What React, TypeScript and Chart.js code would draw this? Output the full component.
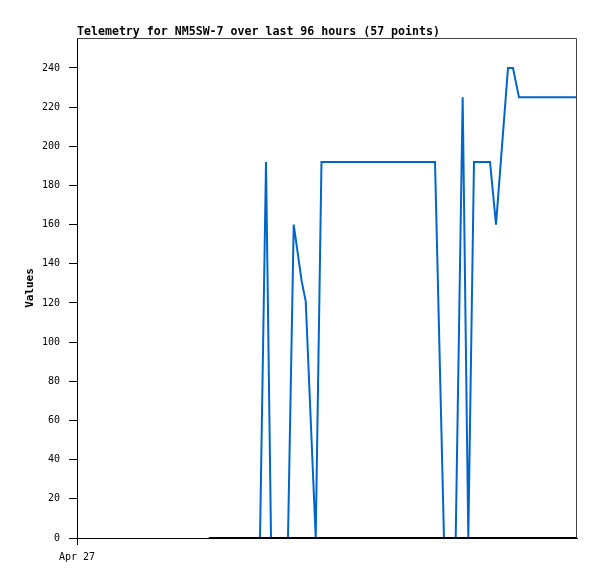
import { useEffect, useRef } from "react";
import { Chart, registerables } from "chart.js";

Chart.register(...registerables);

const TITLE = "Telemetry for NM5SW-7 over last 96 hours (57 points)";
const Y_LABEL = "Values";
const X_TICK_LABEL = "Apr 27";
const X_MIN = 0;
const X_MAX = 96;
const Y_MIN = 0;
const Y_MAX = 255.3;
const Y_STEP = 20;

// hours since start (Apr 27 00:00)
const blueHours = [
  35.14, 36.29, 37.25, 40.51, 41.61, 43.14, 43.91, 45.83, 46.94, 68.74,
  70.46, 72.71, 74.05, 75.13, 76.22, 79.3, 80.45, 82.75, 83.71, 84.86, 95.81,
];
const blueValues = [
  0, 192, 0, 0, 160, 131, 121, 0, 192, 192,
  0, 0, 225, 0, 192, 192, 160, 240, 240, 225, 225,
];
const blackHours = [25.3, 96];
const blackValues = [0, 0];

const MONO = "'DejaVu Sans Mono', monospace";

export default function App() {
  const ref = useRef<HTMLCanvasElement | null>(null);

  useEffect(() => {
    if (!ref.current) return;
    const framePlugin = {
      id: "frame",
      beforeDatasetsDraw(chart: any) {
        const { ctx, chartArea } = chart;
        ctx.save();
        ctx.strokeStyle = "#444444";
        ctx.lineWidth = 1;
        ctx.beginPath();
        ctx.moveTo(chartArea.left, chartArea.top + 0.5);
        ctx.lineTo(chartArea.right - 0.5, chartArea.top + 0.5);
        ctx.lineTo(chartArea.right - 0.5, chartArea.bottom);
        ctx.stroke();
        ctx.restore();
      },
      afterDraw(chart: any) {
        const { ctx, chartArea } = chart;
        ctx.save();
        ctx.fillStyle = "#000";
        ctx.font = `bold 11.6px ${MONO}`;
        ctx.textAlign = "left";
        ctx.textBaseline = "alphabetic";
        ctx.fillText(TITLE, chartArea.left, 34.5);
        ctx.restore();
      },
    };

    const chart = new Chart(ref.current, {
      type: "line",
      data: {
        datasets: [
          {
            label: "zero",
            data: blackHours.map((h, i) => ({ x: h, y: blackValues[i] })),
            borderColor: "#000000",
            borderWidth: 2,
            pointRadius: 0,
            tension: 0,
            order: 0,
          },
          {
            label: "value",
            data: blueHours.map((h, i) => ({ x: h, y: blueValues[i] })),
            borderColor: "#0066cc",
            borderWidth: 2,
            pointRadius: 0,
            tension: 0,
            order: 1,
          },
        ],
      },
      options: {
        responsive: false,
        animation: false,
        layout: { padding: { top: 38, right: 20, bottom: 0, left: 0 } },
        plugins: {
          legend: { display: false },
          tooltip: { enabled: false },
          title: { display: false },
        },
        scales: {
          x: {
            type: "linear",
            min: X_MIN,
            max: X_MAX,
            afterBuildTicks: (scale: any) => {
              scale.ticks = [{ value: X_MIN }];
            },
            afterFit: (scale: any) => {
              scale.height = 41;
            },
            ticks: {
              callback: () => X_TICK_LABEL,
              font: { family: MONO, size: 10 },
              color: "#000",
              padding: 6,
              maxRotation: 0,
              autoSkip: false,
            },
            grid: {
              drawOnChartArea: false,
              drawTicks: true,
              tickLength: 7,
              color: "#000",
            },
            border: { color: "#000", width: 1 },
          },
          y: {
            type: "linear",
            min: Y_MIN,
            max: Y_MAX,
            afterFit: (scale: any) => {
              scale.width = 77;
            },
            ticks: {
              stepSize: Y_STEP,
              includeBounds: false,
              font: { family: MONO, size: 10 },
              color: "#000",
              padding: 9,
            },
            grid: {
              drawOnChartArea: false,
              drawTicks: true,
              tickLength: 8,
              color: "#000",
            },
            border: { color: "#000", width: 1 },
            title: {
              display: true,
              text: Y_LABEL,
              font: { family: MONO, size: 11, weight: "bold" },
              color: "#000",
              padding: { top: 24, bottom: 0 },
            },
          },
        },
      },
      plugins: [framePlugin],
    });
    return () => chart.destroy();
  }, []);

  return (
    <div style={{ position: "fixed", left: 0, top: 0, width: 597, height: 579, background: "#fff" }}>
      <canvas ref={ref} width={597} height={579} style={{ display: "block" }} />
    </div>
  );
}
